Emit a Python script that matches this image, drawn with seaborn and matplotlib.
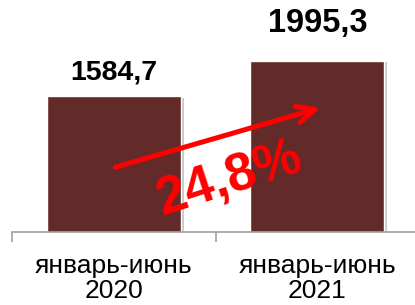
import matplotlib
matplotlib.use("Agg")
import matplotlib.pyplot as plt
import matplotlib.patheffects as pe
import seaborn as sns
import pandas as pd

periods = ["январь-июнь\n2020", "январь-июнь\n2021"]
values = [1584.7, 1995.3]
value_labels = ["1584,7", "1995,3"]
growth_label = "24,8%"

sns.set_style("white")
plt.rcParams["font.family"] = ["Liberation Sans", "DejaVu Sans"]

fig = plt.figure(figsize=(4.15, 3.05), dpi=100)
ax = fig.add_axes([12 / 415, 73 / 305, 407 / 415, 232 / 305])

df = pd.DataFrame({"period": periods, "value": values})
sns.barplot(data=df, x="period", y="value", color="#632A2A", saturation=1,
            width=0.66, ax=ax)
for p in ax.patches:
    p.set_path_effects([pe.SimplePatchShadow(offset=(2, -1), shadow_rgbFace="#888888", alpha=0.45),
                        pe.Normal()])

ax.set_xlim(-0.5, 1.5)
ax.set_ylim(0, 2707)
ax.set_xlabel("")
ax.set_ylabel("")
ax.set_yticks([])
for s in ["top", "right", "left"]:
    ax.spines[s].set_visible(False)
ax.spines["bottom"].set_color("#A0A0A0")
ax.spines["bottom"].set_linewidth(1.2)

ax.set_xticks([-0.5, 0.5, 1.5])
ax.set_xticklabels([])
ax.tick_params(axis="x", which="major", length=7, width=1.2, color="#A0A0A0", direction="out", bottom=True)
ax.set_xticks([0, 1], minor=True)
ax.set_xticklabels(periods, minor=True, fontsize=19, color="#000000", linespacing=1.05)
ax.tick_params(axis="x", which="minor", length=0, pad=16)

offsets = [24, 37]
sizes = [20.5, 23.5]
for i, (v, lab) in enumerate(zip(values, value_labels)):
    ax.annotate(lab, xy=(i, v), xytext=(0, offsets[i]), textcoords="offset pixels",
                ha="center", va="center", fontsize=sizes[i], fontweight="bold", color="black")

ax.annotate("", xy=(1.03, 1459), xytext=(-0.005, 747),
            arrowprops=dict(arrowstyle="->,head_length=1.3,head_width=0.6", color="#FF0000", lw=3.6))
ax.text(0.57, 610, growth_label, rotation=18, ha="center", va="center",
        fontsize=38, fontweight="bold", color="#FF0000", rotation_mode="anchor")

fig.savefig("out.png", dpi=100)
